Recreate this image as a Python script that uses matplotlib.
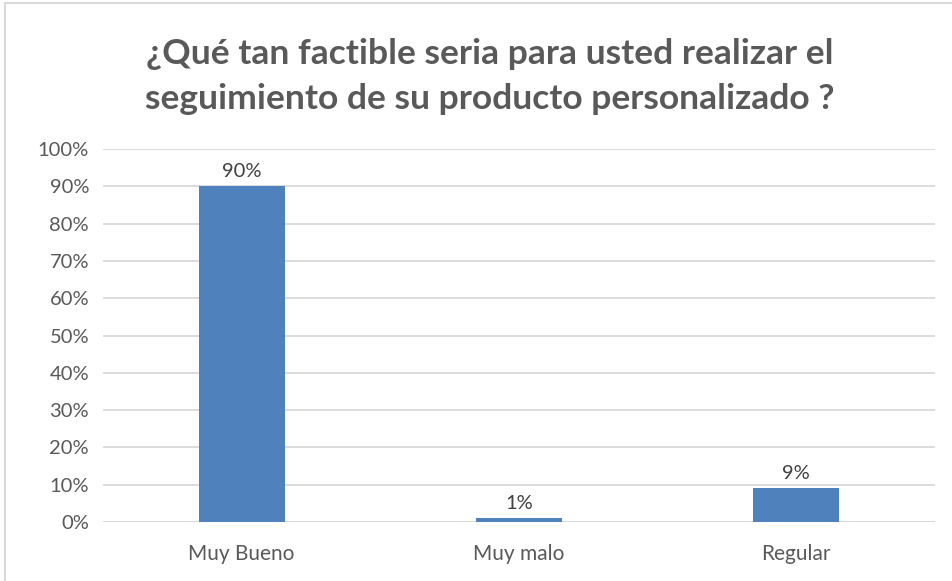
import matplotlib.pyplot as plt
from matplotlib.patches import Rectangle

# Survey answers and their shares (percent)
categories = ["Muy Bueno", "Muy malo", "Regular"]
values = [90, 1, 9]
y_ticks = [0, 10, 20, 30, 40, 50, 60, 70, 80, 90, 100]
title = "¿Qué tan factible seria para usted realizar el\nseguimiento de su producto personalizado ?"

plt.rcParams['font.family'] = ['Lato', 'DejaVu Sans']

fig = plt.figure(figsize=(9.53, 5.81), dpi=100)
ax = fig.add_axes([0.108, 0.1015, 0.873, 0.642])

x = range(len(categories))
ax.bar(x, values, width=0.31, color="#4F81BD", zorder=3)

# value labels above each bar
for xi, v in zip(x, values):
    ax.text(xi, v + 1.6, "{}%".format(v), ha="center", va="bottom",
            fontsize=14.5, color="#404040")

ax.set_xlim(-0.5, 2.5)
ax.set_ylim(0, 100)
ax.set_yticks(y_ticks)
ax.set_yticklabels(["{}%".format(t) for t in y_ticks])
ax.set_xticks(list(x))
ax.set_xticklabels(categories)
ax.tick_params(axis="y", length=0, labelsize=14.5, labelcolor="#595959", pad=10)
ax.tick_params(axis="x", length=0, labelsize=15, labelcolor="#595959", pad=16)
ax.grid(axis="y", color="#D9D9D9", linewidth=1.3, zorder=0)
for s in ax.spines.values():
    s.set_visible(False)
ax.axhline(0, color="#D9D9D9", linewidth=1.3, zorder=2)

fig.text(0.514, 0.869, title, ha="center", va="center", fontsize=25.5,
         fontweight="bold", color="#595959", linespacing=1.5)

# chart frame
fig.patches.append(Rectangle((5 / 953, -0.05), 1.1, 1 - 3 / 581 + 0.05,
                             transform=fig.transFigure, fill=False,
                             edgecolor="#D9D9D9", linewidth=1.5))

fig.savefig("out.png", dpi=100)
